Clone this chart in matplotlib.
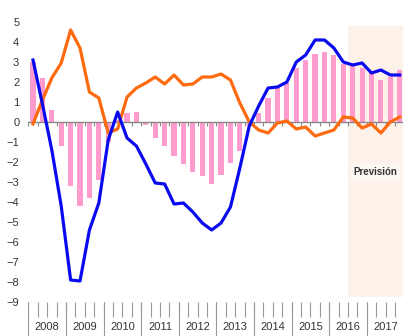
import numpy as np
import matplotlib.pyplot as plt
from matplotlib.patches import Rectangle

plt.rcParams['font.family'] = ['Liberation Sans', 'DejaVu Sans']

# Trimestres 2008T1 - 2017T4
anios = ["2008", "2009", "2010", "2011", "2012", "2013", "2014", "2015", "2016", "2017"]

barras = [3.0, 2.2, 0.6, -1.2, -3.2, -4.2, -3.8, -2.9, -1.0, 0.1,
          0.45, 0.5, -0.15, -0.8, -1.2, -1.7, -2.1, -2.5, -2.7, -3.1,
          -2.65, -2.05, -1.45, -0.2, 0.45, 1.2, 1.7, 1.95, 2.7, 3.1,
          3.4, 3.5, 3.35, 2.9, 2.8, 2.7, 2.5, 2.1, 2.25, 2.6]

linea_azul = [3.1, 0.9, -1.4, -4.2, -7.9, -7.95, -5.4, -4.05, -0.9, 0.5,
              -0.8, -1.2, -2.1, -3.05, -3.1, -4.1, -4.05, -4.5, -5.05, -5.4,
              -5.05, -4.25, -2.3, -0.2, 0.8, 1.7, 1.75, 2.0, 3.0, 3.35,
              4.1, 4.1, 3.7, 3.0, 2.85, 2.95, 2.45, 2.6, 2.35, 2.35]

linea_naranja = [-0.1, 1.1, 2.2, 2.95, 4.6, 3.7, 1.5, 1.2, -0.55, -0.35,
                 1.25, 1.7, 1.95, 2.25, 1.9, 2.35, 1.85, 1.9, 2.25, 2.25,
                 2.4, 2.1, 0.95, 0.0, -0.4, -0.55, -0.05, 0.05, -0.35, -0.25,
                 -0.7, -0.55, -0.4, 0.25, 0.2, -0.3, -0.1, -0.55, 0.0, 0.25]

inicio_prevision = 33.5

x = np.arange(len(barras))

fig = plt.figure(figsize=(4.03, 3.36), dpi=100)
ax = fig.add_axes([28.3 / 403, 0, 1 - 28.3 / 403, 1])
ax.set_xlim(-0.5, 39.35)
ax.set_ylim(-10.7, 6.1)

# zona de previsión
ax.add_patch(Rectangle((inicio_prevision, -8.75), 10, 13.55,
                       facecolor='#FDF2EA', edgecolor='none', zorder=0))
ax.text(36.4, -2.5, "Previsión", ha='center', va='center', fontsize=7,
        fontweight='bold', color='#333333', zorder=5,
        bbox=dict(facecolor='white', edgecolor='none', alpha=0.4, pad=2))

ax.bar(x, barras, width=0.55, color='#FF9CCD', zorder=1)
ax.axhline(0, color='#888888', lw=1, zorder=2)

# marcas de trimestre
bordes = np.arange(-0.5, 40, 1)
ax.vlines(bordes, -0.18, 0, color='#888888', lw=0.8, zorder=2)
ax.vlines(bordes, -9.75, -8.98, color='#999999', lw=0.8)
ax.vlines(bordes[::4], -10.7, -8.98, color='#999999', lw=0.8)

ax.plot(x, linea_naranja, color='#FF6A10', lw=2.3, zorder=3)
ax.plot(x, linea_azul, color='#0A0AEE', lw=2.3, zorder=4)

for i, a in enumerate(anios):
    ax.text(1.5 + 4 * i, -10.25, a, ha='center', va='center', fontsize=8,
            color='#333333')

ax.set_yticks(range(-9, 6))
ax.tick_params(axis='y', length=0, pad=6.5, labelsize=8, labelcolor='#333333')
ax.set_xticks([])
for s in ax.spines.values():
    s.set_visible(False)

fig.savefig("out.png", dpi=100)
